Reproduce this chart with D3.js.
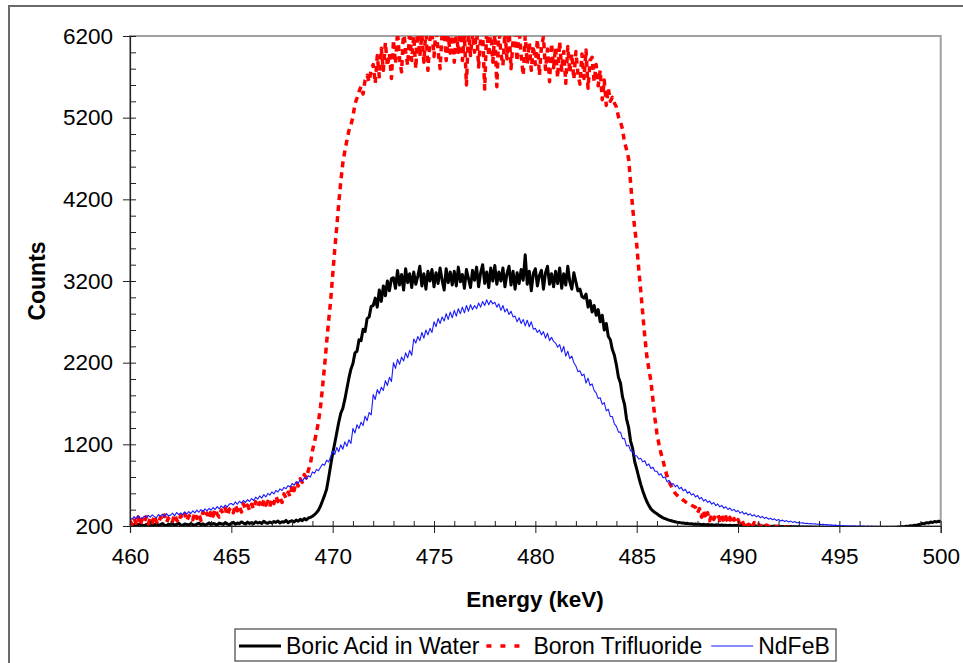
<!DOCTYPE html>
<html>
<head>
<meta charset="utf-8">
<script src="https://cdn.jsdelivr.net/npm/d3@7"></script>
<style>
  html, body { margin: 0; padding: 0; background: #fff; }
  svg { display: block; font-family: Arial, "Liberation Sans", sans-serif; }
</style>
</head>
<body>
<svg id="chart" width="963" height="663"></svg>
<script>
// ---- Data (channel grid: 460 keV start, 0.1 keV per channel) ----
const energyStart = 460;
const energyStep = 0.1;
const seriesNames = ["Boric Acid in Water", "Boron Trifluoride", "NdFeB"];
const xTicks = [460, 465, 470, 475, 480, 485, 490, 495, 500];
const yTicks = [200, 1200, 2200, 3200, 4200, 5200, 6200];

const boric = [
215,208,222,205,218,226,210,204,219,212,
207,221,214,226,209,217,230,211,205,223,
216,228,210,219,233,214,207,225,220,212,
229,218,206,224,235,215,227,209,222,238,
217,231,224,212,236,228,219,241,226,215,
233,245,222,238,229,250,236,224,247,231,
241,228,252,236,245,230,258,240,233,249,
238,255,244,262,236,251,247,268,241,257,
264,249,272,258,281,266,290,275,298,306,
320,338,362,395,445,510,575,650,790,940,
1090,1210,1340,1470,1580,1640,1750,1880,2010,2120,
2190,2320,2340,2480,2470,2610,2580,2740,2760,2890,
2900,2990,2880,3090,2950,3140,3020,3200,3080,3230,
3240,3110,3330,3150,3280,3090,3350,3180,3290,3120,
3310,3160,3260,3380,3140,3290,3100,3320,3200,3340,
3130,3300,3170,3360,3210,3090,3350,3180,3310,3150,
3320,3140,3370,3190,3280,3110,3340,3230,3120,3330,
3210,3370,3130,3300,3400,3170,3310,3120,3360,3200,
3390,3160,3310,3200,3360,3130,3290,3380,3150,3320,
3100,3300,3170,3340,3210,3520,3160,3320,3080,3290,
3350,3140,3270,3330,3100,3300,3380,3160,3290,3130,
3320,3170,3360,3110,3290,3150,3380,3190,3100,3300,
3190,3080,3100,3010,2990,3040,2880,2960,2820,2900,
2780,2850,2700,2780,2600,2680,2520,2480,2360,2290,
2170,2020,1950,1780,1690,1510,1410,1240,1150,990,
900,800,710,630,560,500,450,410,385,365,
350,330,315,300,290,280,272,265,258,252,
247,244,238,236,231,233,226,229,222,225,
220,223,217,221,214,219,212,216,210,214,
211,208,213,206,210,204,209,203,207,205,
208,202,206,199,204,201,205,198,203,200,
197,202,199,196,201,194,198,195,200,193,
196,191,195,190,194,189,193,188,192,187,
190,186,189,185,188,184,187,183,186,182,
185,181,184,180,183,179,182,178,181,177,
180,176,179,175,178,174,177,173,176,172,
175,171,174,170,173,169,172,168,171,167,
172,176,170,178,174,180,176,184,179,188,
185,192,189,197,194,203,199,210,206,215,
221,232,228,241,236,248,243,255,250,258,
252
];

const bf3 = [
262,218,295,231,310,209,286,242,312,226,
294,238,329,253,221,307,262,335,244,298,
316,258,344,275,241,328,286,352,263,321,
339,277,366,291,352,268,375,308,359,286,
382,321,408,344,309,396,352,420,331,403,
425,362,458,386,440,371,472,408,455,392,
466,408,499,431,486,422,518,455,503,437,
532,474,566,499,551,488,593,542,614,561,
698,632,742,691,778,735,830,788,882,956,
1120,1230,1340,1480,1660,1900,2160,2440,2710,2960,
3270,3580,3860,4150,4420,4640,4790,4920,5040,5110,
5210,5370,5440,5520,5580,5490,5660,5720,5640,5790,
5850,5620,5960,5700,6050,5780,6120,5830,5990,5680,
6150,5860,6250,5920,5760,6280,6010,5840,6260,5900,
6200,5800,6300,5950,6220,5880,6290,5780,6160,6250,
5950,6300,6020,5800,6240,6310,5900,6200,5990,6280,
5880,6260,6000,6300,5900,6210,5600,6280,5960,6230,
6000,6300,5820,6180,6250,5550,6310,5950,6270,5880,
6220,5580,6290,5990,5840,6250,5920,6300,5800,6150,
6230,5890,6280,5960,5720,6200,5860,6120,5780,6080,
5850,6160,5720,6070,6190,5790,6040,5640,6110,5810,
6060,5690,6130,5780,6010,5620,6070,5750,5980,5670,
6010,5740,5610,5980,5680,6030,5560,5900,5940,5640,
5850,5590,5780,5420,5660,5350,5560,5400,5450,5380,
5330,5210,5150,5060,4900,4810,4700,4400,4100,3850,
3650,3350,3080,2800,2520,2280,2120,1980,1750,1520,
1330,1200,1090,1000,900,810,740,690,640,600,
575,552,538,515,498,482,470,455,441,428,
360,412,308,395,286,362,264,346,281,332,
352,268,328,251,314,242,306,228,291,236,
278,219,265,208,257,202,249,196,241,204,
222,193,218,187,212,198,186,204,181,198,
189,194,184,190,180,186,176,182,172,178,
170,175,166,172,162,168,158,164,154,160,
152,156,148,153,145,150,142,147,139,144,
137,141,134,138,131,135,128,133,126,130,
124,128,121,126,119,123,117,121,115,119,
113,117,111,115,109,113,107,111,105,109,
103,107,101,105,99,103,97,101,95,99,
93,97,91,95,89,93,87,91,85,89,
87
];

const ndfeb = [
302,281,315,289,324,298,292,321,302,331,
308,337,314,300,341,320,346,311,352,325,
333,357,324,366,339,361,335,373,346,377,
353,386,361,394,368,401,377,409,386,417,
393,426,402,438,411,447,423,456,432,468,
476,457,495,466,503,481,514,489,523,500,
536,512,553,529,568,541,584,556,599,578,
617,593,636,617,654,635,673,656,695,676,
721,699,743,724,767,746,791,774,817,798,
863,844,893,876,920,957,943,1006,985,1048,
1120,1075,1160,1110,1195,1140,1230,1175,1255,1210,
1395,1340,1440,1395,1470,1430,1545,1490,1590,1560,
1810,1750,1870,1820,1900,1860,1980,1920,2020,1970,
2200,2130,2240,2180,2270,2220,2320,2260,2350,2290,
2490,2440,2520,2470,2570,2500,2600,2540,2620,2570,
2700,2640,2740,2680,2760,2710,2800,2730,2820,2750,
2840,2770,2860,2800,2880,2810,2900,2830,2910,2850,
2900,2860,2930,2880,2950,2900,2970,2910,2960,2920,
2940,2880,2920,2840,2900,2820,2860,2790,2830,2760,
2770,2700,2750,2680,2730,2650,2720,2640,2700,2610,
2620,2570,2600,2540,2580,2500,2560,2470,2510,2460,
2440,2390,2420,2330,2400,2280,2340,2250,2280,2200,
2160,2090,2100,2040,2060,1950,2010,1920,1940,1860,
1830,1760,1770,1690,1710,1610,1630,1540,1540,1450,
1420,1350,1350,1270,1270,1180,1190,1120,1120,1060,
1060,1020,1030,985,1000,940,960,905,920,870,
870,825,840,790,800,740,760,705,720,680,
700,655,675,630,650,600,620,580,595,555,
575,530,550,505,525,490,505,468,488,450,
470,435,452,418,436,402,420,388,404,375,
390,358,376,346,362,334,350,322,338,312,
328,302,318,292,306,284,296,276,288,268,
280,262,272,255,266,249,260,244,254,240,
243,236,238,231,234,228,230,225,227,221,
223,217,220,214,217,211,214,208,211,206,
208,203,206,201,204,199,203,198,201,197,
200,195,201,194,200,193,199,192,198,191,
193,194,192,191,190,189,188,187,186,185,
184,183,182,181,180,179,178,177,176,175,
174,173,172,171,170,169,168,167,166,165,
164
];

// ---- Layout ----
const svg = d3.select("#chart");
const plot = { left: 130, top: 36, right: 940.7, bottom: 526 };
const x = d3.scaleLinear().domain([460, 500]).range([plot.left, plot.right]);
const y = d3.scaleLinear().domain([200, 6200]).range([plot.bottom, plot.top]);
const TICK_FONT = 22.5;
const LEGEND_FONT = 23;

// outer chart border
svg.append("rect")
  .attr("x", 9).attr("y", 6).attr("width", 1100).attr("height", 800)
  .attr("fill", "#fff").attr("stroke", "#6a6a6a").attr("stroke-width", 2);

// plot area border (top / right grey)
svg.append("rect")
  .attr("x", plot.left).attr("y", plot.top)
  .attr("width", plot.right - plot.left).attr("height", plot.bottom - plot.top)
  .attr("fill", "#fff").attr("stroke", "#a0a0a0").attr("stroke-width", 2);

// clip
svg.append("defs").append("clipPath").attr("id", "clip")
  .append("rect")
  .attr("x", plot.left).attr("y", plot.top)
  .attr("width", plot.right - plot.left).attr("height", plot.bottom - plot.top);

const energyOf = i => energyStart + i * energyStep;
const line = d3.line().x((d, i) => x(energyOf(i))).y(d => y(d));

const lines = svg.append("g").attr("clip-path", "url(#clip)");
lines.append("path").datum(boric)
  .attr("d", line).attr("fill", "none")
  .attr("stroke", "#000").attr("stroke-width", 3).attr("stroke-linejoin", "round");
lines.append("path").datum(bf3)
  .attr("d", line).attr("fill", "none")
  .attr("stroke", "#ff0000").attr("stroke-width", 3.5)
  .attr("stroke-dasharray", "6,5").attr("stroke-linejoin", "round");
lines.append("path").datum(ndfeb)
  .attr("d", line).attr("fill", "none")
  .attr("stroke", "#1a1aff").attr("stroke-width", 1.1).attr("stroke-linejoin", "round");

// ---- Axes ----
const yMinor = d3.range(200, 6201, 200);
const xMinor = d3.range(460, 501, 1);

const yAxis = svg.append("g").attr("transform", `translate(${plot.left},0)`)
  .call(d3.axisLeft(y).tickValues(yTicks).tickSize(7).tickPadding(10).tickFormat(d3.format("d")));
const yInner = svg.append("g").attr("transform", `translate(${plot.left},0)`)
  .call(d3.axisRight(y).tickValues(yMinor).tickSize(6).tickFormat(""));
yInner.select(".domain").remove();

const xAxis = svg.append("g").attr("transform", `translate(0,${plot.bottom})`)
  .call(d3.axisBottom(x).tickValues(xTicks).tickSize(7).tickPadding(15).tickFormat(d3.format("d")));
const xInner = svg.append("g").attr("transform", `translate(0,${plot.bottom})`)
  .call(d3.axisTop(x).tickValues(xMinor).tickSize(5).tickFormat(""));
xInner.select(".domain").remove();

[yAxis, xAxis, yInner, xInner].forEach(g => {
  g.selectAll("line").attr("stroke", "#222").attr("stroke-width", 1);
  g.selectAll(".domain").attr("stroke", "#222").attr("stroke-width", 1.2);
  g.selectAll("text").attr("font-size", TICK_FONT).attr("fill", "#000")
    .attr("font-family", "Arial, 'Liberation Sans', sans-serif");
});

// axis titles
svg.append("text")
  .attr("x", 535).attr("y", 607)
  .attr("text-anchor", "middle").attr("font-size", 22.5).attr("font-weight", "bold")
  .text("Energy (keV)");
svg.append("text")
  .attr("transform", `translate(45,${(plot.top + plot.bottom) / 2}) rotate(-90)`)
  .attr("text-anchor", "middle").attr("font-size", 23).attr("font-weight", "bold")
  .text("Counts");

// ---- Legend ----
const legend = svg.append("g");
legend.append("rect")
  .attr("x", 235).attr("y", 629).attr("width", 601).attr("height", 32)
  .attr("fill", "#fff").attr("stroke", "#444").attr("stroke-width", 1.2);
const legendStyles = [
  { color: "#000", width: 3, dash: null },
  { color: "#ff0000", width: 3.5, dash: "5,9" },
  { color: "#1a1aff", width: 1.1, dash: null }
];
let lx = 239;
const ly = 646;
seriesNames.forEach((name, i) => {
  const st = legendStyles[i];
  const sx = i === 1 ? lx + 2 : (i === 2 ? lx + 4 : lx);
  legend.append("line")
    .attr("x1", sx).attr("x2", sx + 42).attr("y1", ly).attr("y2", ly)
    .attr("stroke", st.color).attr("stroke-width", st.width)
    .attr("stroke-dasharray", st.dash);
  const t = legend.append("text")
    .attr("x", sx + 47).attr("y", ly + 8)
    .attr("font-size", LEGEND_FONT).attr("fill", "#000")
    .text(name);
  lx = sx + 47 + t.node().getComputedTextLength() + 5;
});
</script>
</body>
</html>
